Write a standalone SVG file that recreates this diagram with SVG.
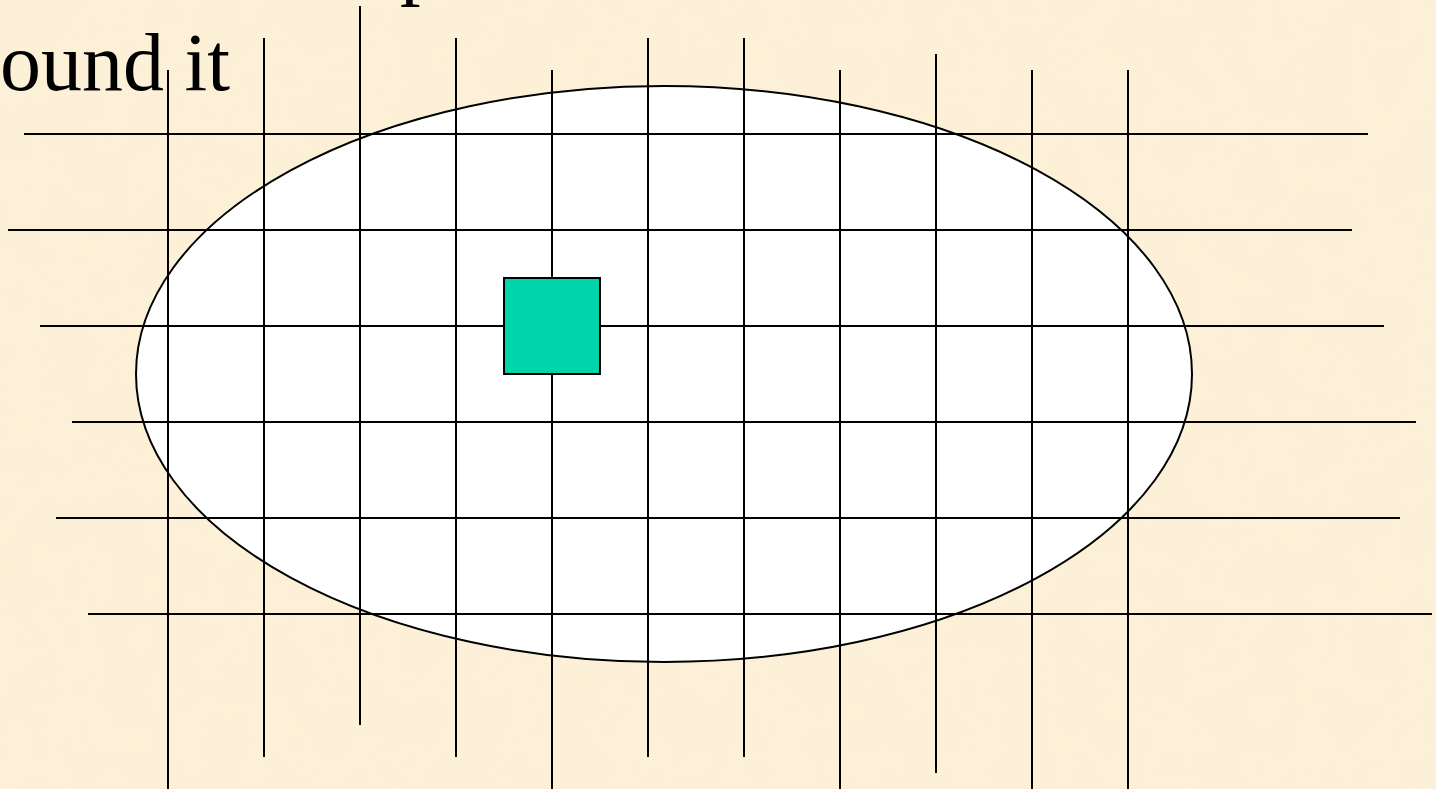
<svg xmlns="http://www.w3.org/2000/svg" width="1436" height="789" viewBox="0 0 1436 789">
<style>
.g{stroke:#000;stroke-width:2;fill:none}
.t{font-family:"Liberation Serif","Times New Roman",serif;font-size:82px;fill:#000}
</style>
<defs>
<filter id="tex" x="0" y="0" width="100%" height="100%">
<feTurbulence type="fractalNoise" baseFrequency="0.02" numOctaves="3" seed="4"/>
<feColorMatrix type="matrix" values="0 0 0 0 0.96  0 0 0 0 0.88  0 0 0 0 0.7  0 0 0 0.35 0"/>
</filter>
</defs>
<g id="background">
<rect width="1436" height="789" fill="#FCF0D7"/>
<rect width="1436" height="789" filter="url(#tex)" opacity="0.5"/>
</g>
<g id="text">
<text class="t" x="400" y="-11">p</text>
<text class="t" x="230" y="90" text-anchor="end">ound it</text>
</g>
<g id="region">
<ellipse cx="664" cy="374" rx="528" ry="288" fill="#fff" stroke="#000" stroke-width="2"/>
</g>
<g id="grid">
<line class="g" x1="168" y1="70" x2="168" y2="789"/>
<line class="g" x1="264" y1="38" x2="264" y2="757"/>
<line class="g" x1="360" y1="6" x2="360" y2="725"/>
<line class="g" x1="456" y1="38" x2="456" y2="757"/>
<line class="g" x1="552" y1="70" x2="552" y2="789"/>
<line class="g" x1="648" y1="38" x2="648" y2="757"/>
<line class="g" x1="744" y1="38" x2="744" y2="757"/>
<line class="g" x1="840" y1="70" x2="840" y2="789"/>
<line class="g" x1="936" y1="54" x2="936" y2="773"/>
<line class="g" x1="1032" y1="70" x2="1032" y2="789"/>
<line class="g" x1="1128" y1="70" x2="1128" y2="789"/>
<line class="g" x1="24" y1="134" x2="1368" y2="134"/>
<line class="g" x1="8" y1="230" x2="1352" y2="230"/>
<line class="g" x1="40" y1="326" x2="1384" y2="326"/>
<line class="g" x1="72" y1="422" x2="1416" y2="422"/>
<line class="g" x1="56" y1="518" x2="1400" y2="518"/>
<line class="g" x1="88" y1="614" x2="1432" y2="614"/>
</g>
<g id="cell">
<rect x="504" y="278" width="96" height="96" fill="#00D4AA" stroke="#000" stroke-width="2"/>
</g>
</svg>
